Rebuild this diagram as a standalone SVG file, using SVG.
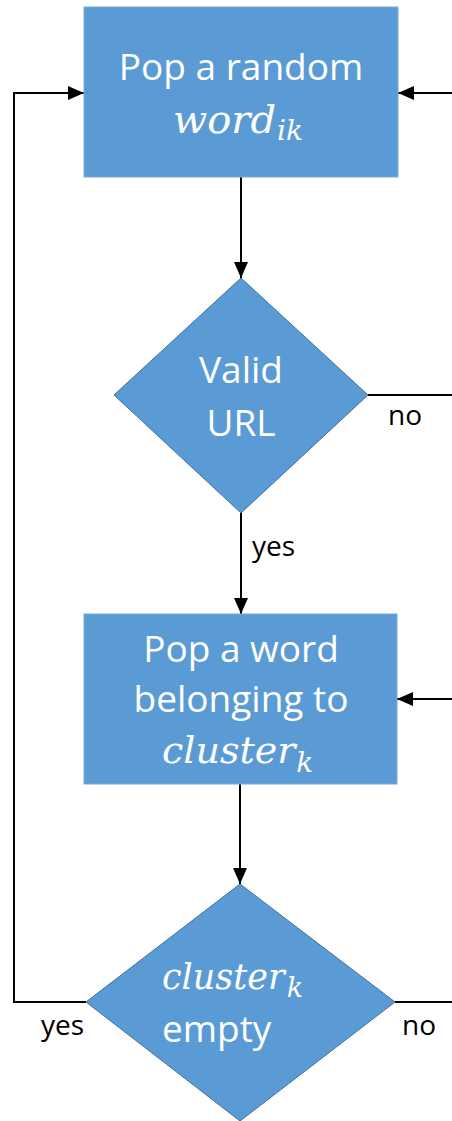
<svg xmlns="http://www.w3.org/2000/svg" width="452" height="1121" viewBox="0 0 452 1121">
<defs>
<style>
.box{fill:#5b9bd5;stroke:#7aa9d8;stroke-width:1}
.dia{fill:#5b9bd5;stroke:#41719c;stroke-width:1}
.t{font-family:"Open Sans","Liberation Sans",sans-serif;font-size:37px;fill:#ffffff;text-anchor:middle}
.m{font-family:"DejaVu Serif","Liberation Serif",serif;font-style:italic;fill:#ffffff}
.lbl{font-family:"Open Sans","Liberation Sans",sans-serif;font-size:28px;fill:#000000}
.c{fill:none;stroke:#000000;stroke-width:2}
</style>
<marker id="ah" markerUnits="userSpaceOnUse" markerWidth="16" markerHeight="14" viewBox="0 0 16 14" refX="16" refY="7" orient="auto">
<path d="M0,0 L16,7 L0,14 Z" fill="#000000"/>
</marker>
</defs>
<g id="connectors">
<path class="c" d="M241,177 V278" marker-end="url(#ah)"/>
<path class="c" d="M241,513 V614" marker-end="url(#ah)"/>
<path class="c" d="M240,784 V884" marker-end="url(#ah)"/>
<path class="c" d="M368,395 H452"/>
<path class="c" d="M452,93 H398" marker-end="url(#ah)"/>
<path class="c" d="M452,699 H397" marker-end="url(#ah)"/>
<path class="c" d="M86,1002 H14 V93 H84" marker-end="url(#ah)"/>
<path class="c" d="M395,1002 H452"/>
<text class="lbl" x="252" y="556">yes</text>
<text class="lbl" x="388" y="425">no</text>
<text class="lbl" x="41" y="1035">yes</text>
<text class="lbl" x="402" y="1035">no</text>
</g>
<g id="node-pop-random">
<rect class="box" x="84" y="7" width="314" height="170"/>
<text class="t" x="241" y="80">Pop a random</text>
<text class="m" x="173" y="133" font-size="40">word<tspan font-size="28" dx="1" dy="7">ik</tspan></text>
</g>
<g id="node-valid-url">
<polygon class="dia" points="241,278 368,395 241,513 114,395"/>
<text class="t" x="241" y="383">Valid</text>
<text class="t" x="241" y="436">URL</text>
</g>
<g id="node-pop-word">
<rect class="box" x="84" y="614" width="313" height="170"/>
<text class="t" x="241" y="662">Pop a word</text>
<text class="t" x="241" y="712">belonging to</text>
<text class="m" x="162" y="763" font-size="38">cluster<tspan font-size="28" dx="1" dy="9">k</tspan></text>
</g>
<g id="node-cluster-empty">
<polygon class="dia" points="240,884 395,1002 240,1121 86,1002"/>
<text class="m" x="162" y="989" font-size="35">cluster<tspan font-size="27" dx="2" dy="8">k</tspan></text>
<text class="t" x="162" y="1042" style="text-anchor:start">empty</text>
</g>
</svg>
